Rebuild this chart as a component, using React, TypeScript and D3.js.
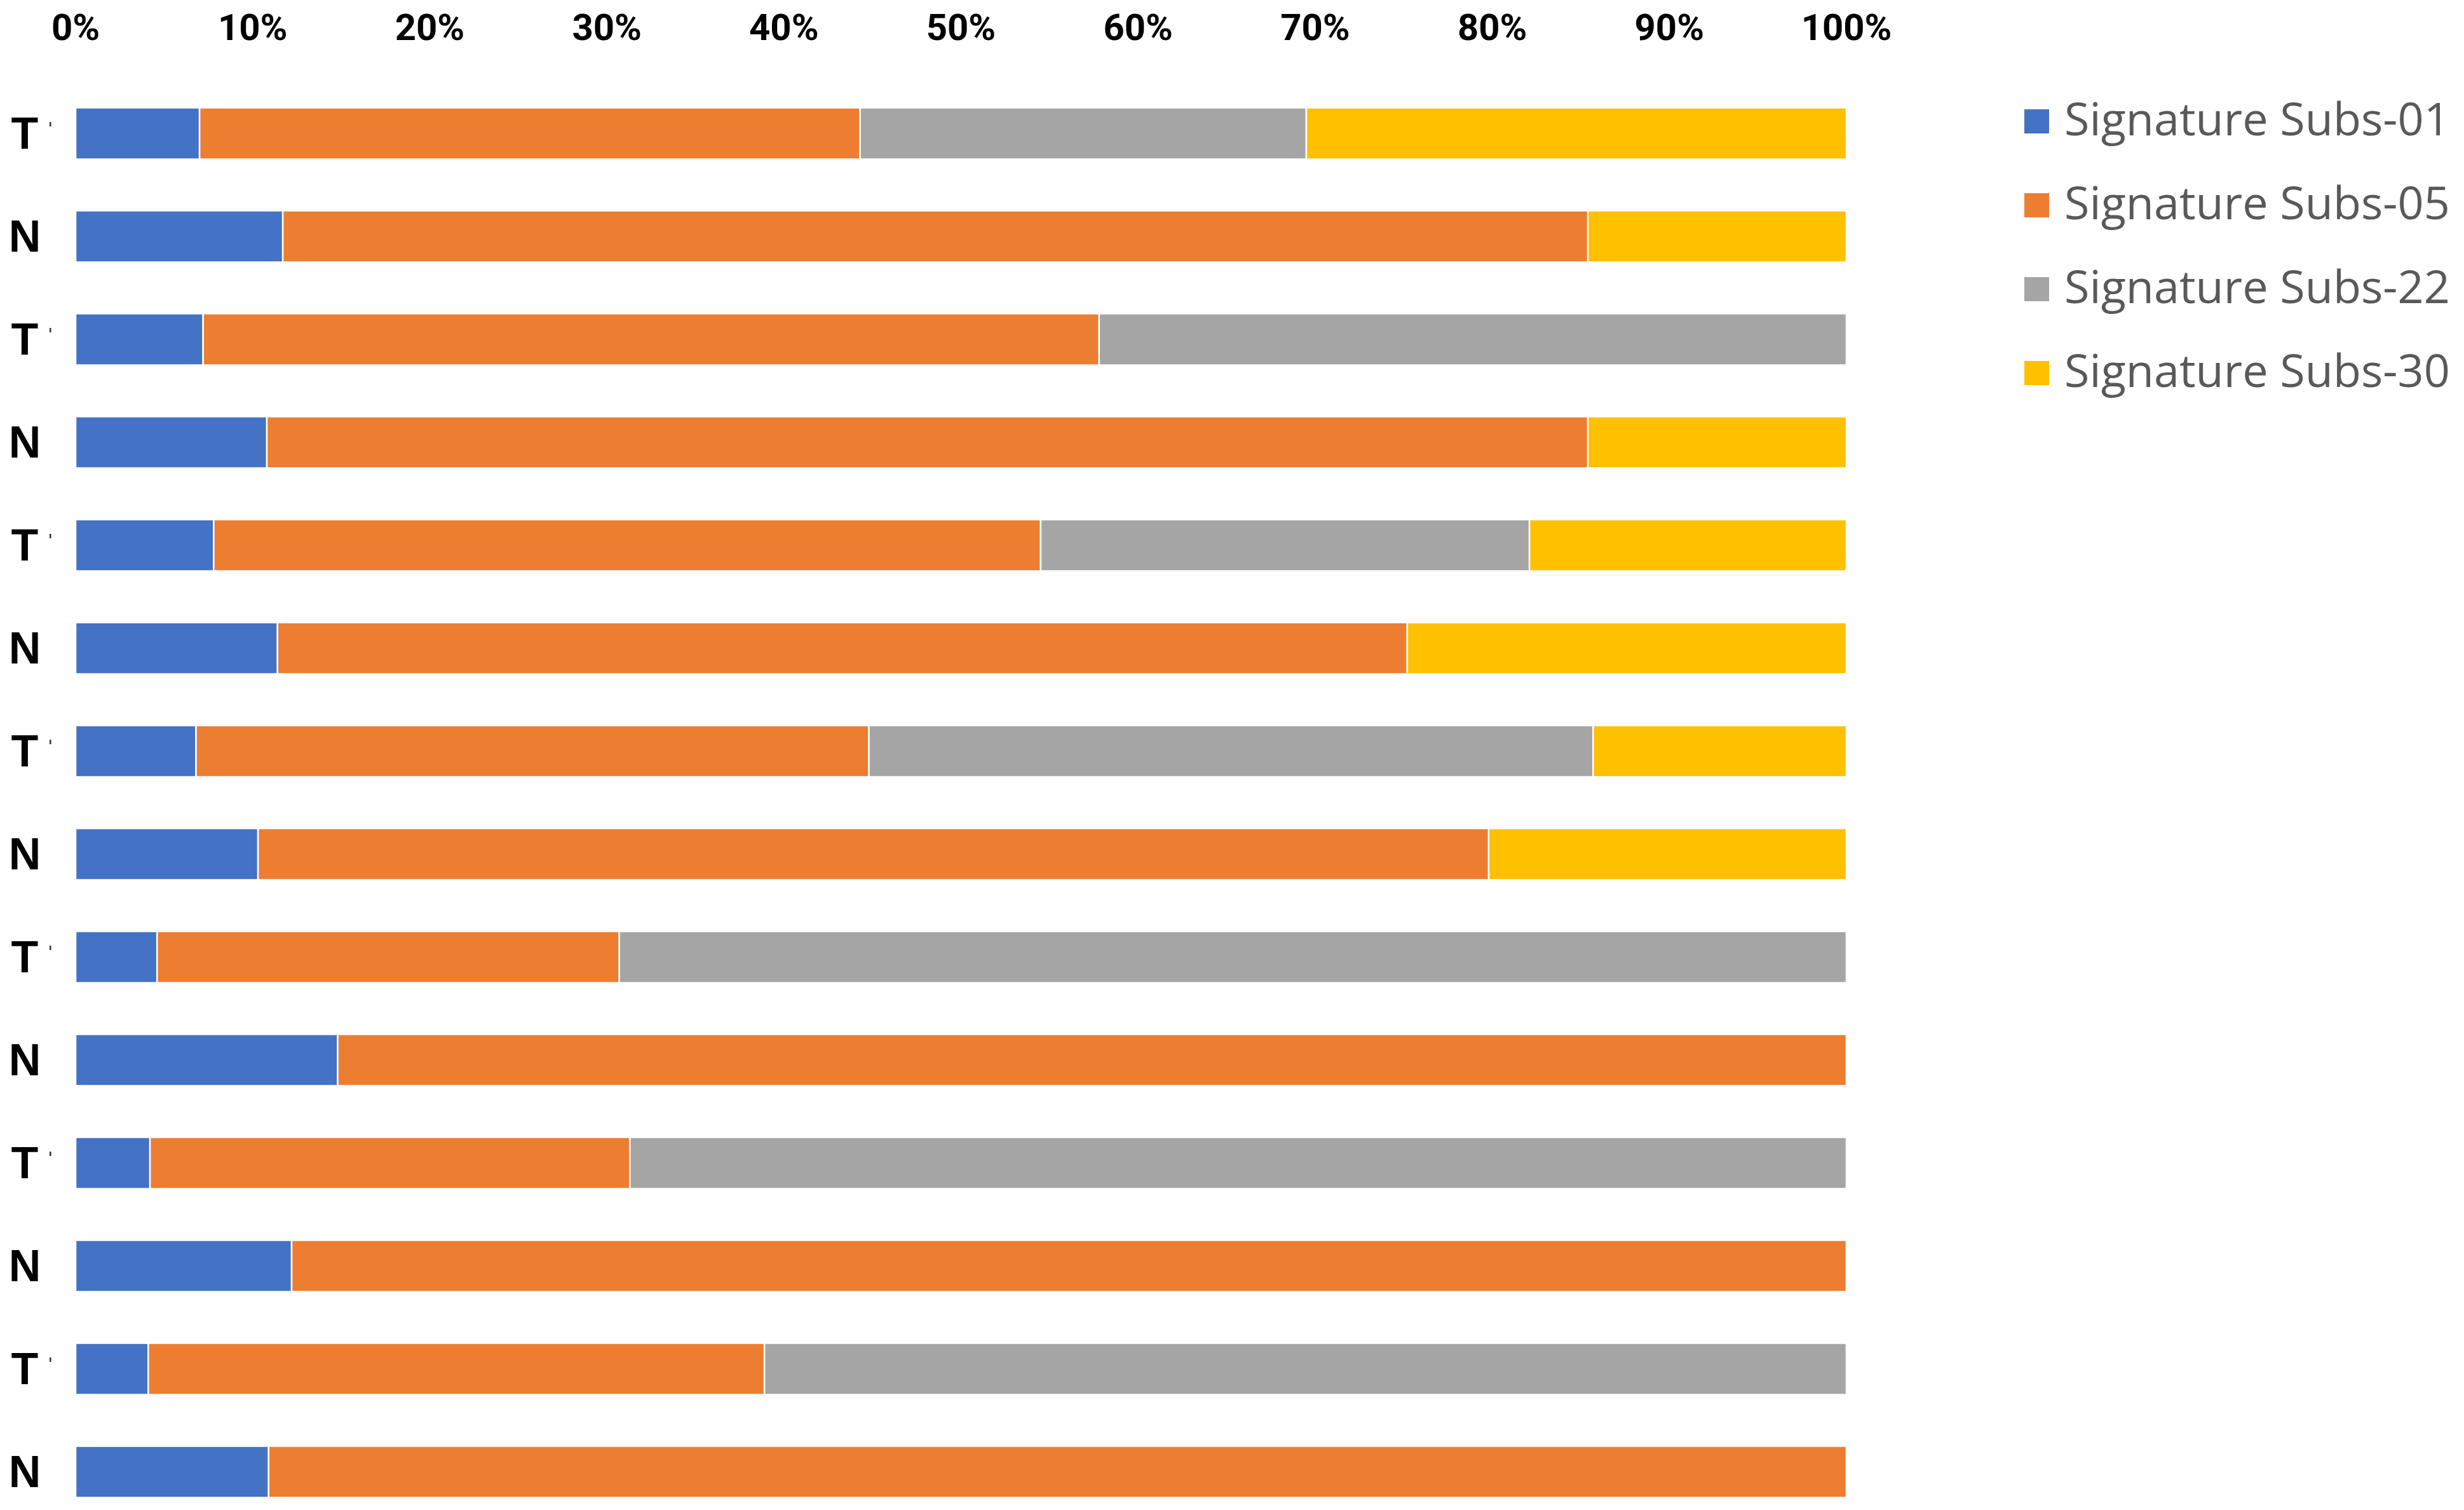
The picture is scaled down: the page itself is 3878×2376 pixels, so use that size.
import { useEffect, useRef } from 'react';
import * as d3 from 'd3';

const W = 3878;
const H = 2376;

// rows, top to bottom
const samples = ['T', 'N', 'T', 'N', 'T', 'N', 'T', 'N', 'T', 'N', 'T', 'N', 'T', 'N'];

const seriesNames = ['Signature Subs-01', 'Signature Subs-05', 'Signature Subs-22', 'Signature Subs-30'];
const seriesColors = ['#4472C4', '#ED7D31', '#A5A5A5', '#FFC000'];

// percentage contributions
const subs01 = [7.0, 11.7, 7.2, 10.8, 7.8, 11.4, 6.8, 10.3, 4.6, 14.8, 4.2, 12.2, 4.1, 10.9];
const subs05 = [37.3, 73.7, 50.6, 74.6, 46.7, 63.8, 38.0, 69.5, 26.1, 85.2, 27.1, 87.8, 34.8, 89.1];
const subs22 = [25.2, 0, 42.2, 0, 27.6, 0, 40.9, 0, 69.3, 0, 68.7, 0, 61.1, 0];
const subs30 = [30.5, 14.6, 0, 14.6, 17.9, 24.8, 14.3, 20.2, 0, 0, 0, 0, 0, 0];

const xTicks = [0, 0.1, 0.2, 0.3, 0.4, 0.5, 0.6, 0.7, 0.8, 0.9, 1];

export default function App() {
  const ref = useRef<SVGSVGElement | null>(null);

  useEffect(() => {
    if (!ref.current) return;
    document.body.style.margin = '0';

    const svg = d3.select(ref.current);
    svg.selectAll('*').remove();

    const rows = samples.map((s, i) => ({
      id: String(i),
      label: s,
      [seriesNames[0]]: subs01[i],
      [seriesNames[1]]: subs05[i],
      [seriesNames[2]]: subs22[i],
      [seriesNames[3]]: subs30[i],
    }));

    const stacked = d3
      .stack<any>()
      .keys(seriesNames)
      .offset(d3.stackOffsetExpand)(rows);

    const x = d3.scaleLinear().domain([0, 1]).range([119, 2906]);
    const y = d3
      .scaleBand()
      .domain(rows.map((r) => r.id))
      .range([129, 129 + 162 * rows.length])
      .paddingInner(0.5)
      .paddingOuter(0.25);

    // top axis labels
    svg
      .append('g')
      .selectAll('text')
      .data(xTicks)
      .enter()
      .append('text')
      .attr('x', (d) => x(d))
      .attr('y', 63)
      .attr('text-anchor', 'middle')
      .attr('font-family', 'Roboto, sans-serif')
      .attr('font-weight', 700)
      .attr('font-size', 58)
      .attr('fill', '#000')
      .text((d) => d3.format('.0%')(d));

    // bars
    const layers = svg
      .append('g')
      .selectAll('g')
      .data(stacked)
      .enter()
      .append('g')
      .attr('fill', (_d, i) => seriesColors[i]);

    layers
      .selectAll('rect')
      .data((d) => d.filter((p) => p[1] - p[0] > 0))
      .enter()
      .append('rect')
      .attr('x', (p) => x(p[0]))
      .attr('y', (p) => y(p.data.id)!)
      .attr('width', (p) => x(p[1]) - x(p[0]))
      .attr('height', y.bandwidth())
      .attr('stroke', '#fff')
      .attr('stroke-width', 2.5);

    // row labels
    const lab = svg
      .append('g')
      .selectAll('g')
      .data(rows)
      .enter()
      .append('g')
      .attr('transform', (r) => `translate(0,${y(r.id)! + y.bandwidth() / 2})`);

    lab
      .append('text')
      .attr('x', 39)
      .attr('y', 24)
      .attr('text-anchor', 'middle')
      .attr('font-family', '"Liberation Sans", Arial, sans-serif')
      .attr('font-weight', 700)
      .attr('font-size', 70)
      .attr('fill', '#000')
      .text((r) => r.label);

    // small mark next to T labels
    lab
      .filter((r) => r.label === 'T')
      .append('rect')
      .attr('x', 78)
      .attr('y', -18)
      .attr('width', 2.5)
      .attr('height', 7)
      .attr('fill', '#333');

    // legend
    const leg = svg
      .append('g')
      .selectAll('g')
      .data(seriesNames)
      .enter()
      .append('g')
      .attr('transform', (_d, i) => `translate(3186,${191 + i * 132})`);

    leg
      .append('rect')
      .attr('x', 0)
      .attr('y', -19)
      .attr('width', 39)
      .attr('height', 38)
      .attr('fill', (_d, i) => seriesColors[i]);

    leg
      .append('text')
      .attr('x', 63)
      .attr('y', 22)
      .attr('font-family', '"Open Sans", sans-serif')
      .attr('font-size', 72)
      .attr('fill', '#595959')
      .text((d) => d);
  }, []);

  return <svg ref={ref} width={W} height={H} style={{ display: 'block', background: '#fff' }} />;
}
